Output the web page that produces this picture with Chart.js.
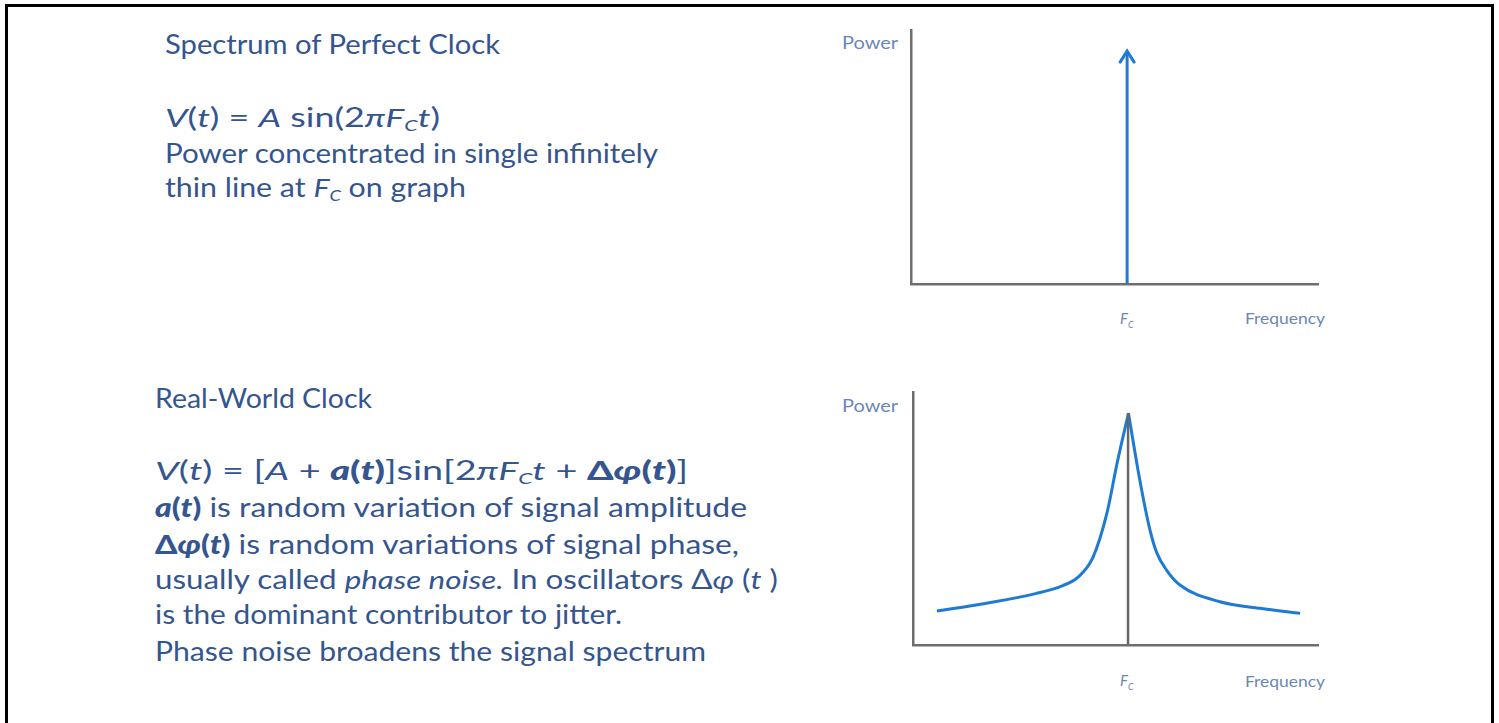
<!DOCTYPE html>
<html>
<head>
<meta charset="utf-8">
<script src="https://cdn.jsdelivr.net/npm/chart.js@4"></script>
<style>
  html, body { margin: 0; padding: 0; background: #fff; width: 1499px; height: 723px; overflow: hidden; }
  #frame { position: absolute; left: 5px; top: 4px; width: 1483px; height: 800px; border: 3px solid #000; border-bottom: none; }
  .ln { position: absolute; white-space: nowrap; font-family: Lato, "Open Sans", sans-serif; font-size: 26px; line-height: 30px; color: #34558f; transform-origin: 0 50%; }
  .it { font-style: italic; }
  .b { font-weight: 900; font-style: italic; }
  .bu { font-weight: 900; }
  sub { font-size: 60%; vertical-align: -4px; line-height: 0; }
  .lab { position: absolute; white-space: nowrap; font-family: Lato, sans-serif; color: #6a87b8; font-size: 17px; line-height: 20px; transform-origin: 0 50%; }
  canvas { position: absolute; }
</style>
</head>
<body>
<div id="frame"></div>

<!-- Block 1 text -->
<div class="ln" data-w="335" style="left:165px; top:29px;">Spectrum of Perfect Clock</div>
<div class="ln" data-w="275" style="left:165px; top:102px;"><span class="it">V</span>(<span class="it">t</span>) = <span class="it">A</span> sin(2<span class="it">π</span><span class="it">F<sub>C</sub>t</span>)</div>
<div class="ln" data-w="493" style="left:165px; top:138px;">Power concentrated in single infinitely</div>
<div class="ln" data-w="301" style="left:165px; top:172px;">thin line at <span class="it">F<sub>C</sub></span> on graph</div>

<!-- Block 2 text -->
<div class="ln" data-w="217" style="left:155px; top:383px;">Real-World Clock</div>
<div class="ln" data-w="533" style="left:155px; top:455px;"><span class="it">V</span>(<span class="it">t</span>) = [<span class="it">A</span> + <span class="b">a</span><span class="bu">(</span><span class="b">t</span><span class="bu">)</span>]sin[2<span class="it">π</span><span class="it">F<sub>C</sub>t</span> + <span class="bu">Δ</span><span class="b">φ</span><span class="bu">(</span><span class="b">t</span><span class="bu">)</span>]</div>
<div class="ln" data-w="592" style="left:155px; top:492px;"><span class="b">a</span><span class="bu">(</span><span class="b">t</span><span class="bu">)</span> is random variation of signal amplitude</div>
<div class="ln" data-w="584" style="left:155px; top:529px;"><span class="bu">Δ</span><span class="b">φ</span><span class="bu">(</span><span class="b">t</span><span class="bu">)</span> is random variations of signal phase,</div>
<div class="ln" data-w="623" style="left:155px; top:564px;">usually called <span class="it">phase noise.</span> In oscillators Δ<span class="it">φ</span> (<span class="it">t</span> )</div>
<div class="ln" data-w="467" style="left:155px; top:599px;">is the dominant contributor to jitter.</div>
<div class="ln" data-w="551" style="left:155px; top:636px;">Phase noise broadens the signal spectrum</div>

<!-- Chart labels -->
<div class="lab" data-w="56" style="left:842px; top:33px;">Power</div>
<div class="lab it" style="left:1120px; top:308px; font-size:15px;">F<sub>C</sub></div>
<div class="lab" data-w="80" style="left:1245px; top:308px; font-size:15px;">Frequency</div>

<div class="lab" data-w="56" style="left:842px; top:396px;">Power</div>
<div class="lab it" style="left:1120px; top:670px; font-size:15px;">F<sub>C</sub></div>
<div class="lab" data-w="80" style="left:1245px; top:671px; font-size:15px;">Frequency</div>

<canvas id="c1" style="left:900px; top:20px; width:430px; height:275px;" width="430" height="275"></canvas>
<canvas id="c2" style="left:900px; top:382px; width:430px; height:275px;" width="430" height="275"></canvas>

<script>
// ---- Data ----
// Perfect clock: a single spectral line at Fc
const fc = 53.1;
const perfectFreq = [53.1, 53.1];
const perfectPower = [0, 91.7];

// Real-world clock: broadened spectrum (left flank up to peak, right flank down from peak)
const leftFreq  = [5.9, 18.2, 30.5, 37.0, 40.6, 44.4, 47.9, 50.4, 53.2];
const leftPower = [13.4, 16.5, 20.4, 23.5, 26.6, 34.5, 52.2, 71.9, 91.6];
const rightFreq  = [53.2, 56.0, 58.5, 60.2, 62.6, 65.9, 75.8, 85.7, 95.6];
const rightPower = [91.6, 65.2, 45.5, 36.4, 29.6, 23.7, 17.1, 14.5, 12.5];
const markerFreq  = [53.1, 53.1];
const markerPower = [0, 91.6];

// ---- fit text lines to widths ----
document.querySelectorAll('[data-w]').forEach(el => {
  const w = el.getBoundingClientRect().width;
  const t = parseFloat(el.dataset.w);
  if (w > 0) el.style.transform = 'scaleX(' + (t / w) + ')';
});

const pts = (xs, ys) => xs.map((x, i) => ({ x: x, y: ys[i] }));
const axisColor = '#6e6e6e';
const blue = '#1f7ad3';

function scales() {
  const common = {
    type: 'linear', min: 0, max: 100, display: true,
    grid: { display: false, drawTicks: false },
    ticks: { display: false },
    border: { display: true, color: axisColor, width: 2.5 }
  };
  return { x: Object.assign({}, common), y: Object.assign({}, common) };
}

// arrowhead plugin for the perfect-clock line
const arrowHead = {
  id: 'arrowHead',
  afterDatasetsDraw(chart) {
    const xs = chart.scales.x, ys = chart.scales.y;
    const px = xs.getPixelForValue(perfectFreq[1]);
    const py = ys.getPixelForValue(perfectPower[1]);
    const ctx = chart.ctx;
    ctx.save();
    ctx.strokeStyle = blue;
    ctx.lineWidth = 3;
    ctx.lineCap = 'round';
    ctx.lineJoin = 'miter';
    ctx.beginPath();
    ctx.moveTo(px - 7, py + 11);
    ctx.lineTo(px, py);
    ctx.lineTo(px + 7, py + 11);
    ctx.stroke();
    ctx.restore();
  }
};

const baseOpts = (pad) => ({
  responsive: false,
  animation: false,
  devicePixelRatio: 1,
  layout: { padding: pad },
  plugins: { legend: { display: false }, tooltip: { enabled: false } },
  elements: { point: { radius: 0 } },
  scales: scales()
});

new Chart(document.getElementById('c1'), {
  type: 'scatter',
  data: {
    datasets: [{
      data: pts(perfectFreq, perfectPower),
      showLine: true, borderColor: blue, borderWidth: 3, pointRadius: 0
    }]
  },
  options: baseOpts({ left: 11, right: 12, top: 10, bottom: 11 }),
  plugins: [arrowHead]
});

new Chart(document.getElementById('c2'), {
  type: 'scatter',
  data: {
    datasets: [
      { data: pts(markerFreq, markerPower), showLine: true, borderColor: '#666', borderWidth: 2.5, pointRadius: 0 },
      { data: pts(leftFreq, leftPower), showLine: true, borderColor: blue, borderWidth: 3, pointRadius: 0, cubicInterpolationMode: 'monotone' },
      { data: pts(rightFreq, rightPower), showLine: true, borderColor: blue, borderWidth: 3, pointRadius: 0, cubicInterpolationMode: 'monotone' }
    ]
  },
  options: baseOpts({ left: 13, right: 12, top: 10, bottom: 12 })
});
</script>
</body>
</html>
